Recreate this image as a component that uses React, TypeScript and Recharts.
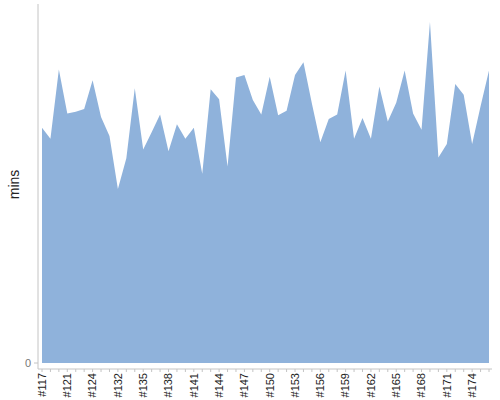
import React from 'react'
import { AreaChart, Area, XAxis, YAxis } from 'recharts'

// build numbers along the x axis
const builds = [
  117, 118, 119, 121, 122, 123, 124, 128, 130,
  132, 133, 134, 135, 136, 137, 138, 139, 140, 141, 142, 143, 144, 145, 146, 147, 148, 149,
  150, 151, 152, 153, 154, 155, 156, 157, 158, 159, 160, 161, 162, 163, 164, 165, 166, 167,
  168, 169, 170, 171, 172, 173, 174, 175, 176,
]

// build duration in minutes
const durations = [
  26.2, 25.0, 32.7, 27.8, 28.0, 28.3, 31.5, 27.4, 25.3,
  19.4, 22.8, 30.6, 23.8, 25.7, 27.7, 23.6, 26.6, 25.0, 26.2, 21.1, 30.5, 29.4, 21.9, 31.8, 32.1, 29.3, 27.7,
  31.9, 27.6, 28.1, 32.1, 33.5, 28.9, 24.6, 27.2, 27.7, 32.6, 25.0, 27.3, 25.0, 30.8, 26.9, 29.0, 32.6, 27.8,
  26.0, 38.0, 22.9, 24.4, 31.1, 29.9, 24.4, 28.6, 32.6,
]

const yTicks = [0]

const data = builds.map((b, i) => ({ build: '#' + b, mins: durations[i] }))

const FONT = '"Liberation Sans", Arial, sans-serif'

const BuildTick = (props: any) => {
  const { x, y, payload, index } = props
  if (index % 3 !== 0) return null
  return (
    <text
      transform={`translate(${x},${y}) rotate(-90)`}
      textAnchor="end"
      dy="0.35em"
      fontSize={11}
      fontFamily={FONT}
      fill="#222"
    >
      {payload.value}
    </text>
  )
}

export default function App() {
  return (
    <div style={{ position: 'absolute', left: 0, top: 0, width: 500, height: 400 }}>
      <AreaChart width={500} height={400} data={data} margin={{ top: 4, right: 8, bottom: 0, left: 0 }}>
        <XAxis
          dataKey="build"
          interval={0}
          height={31}
          padding={{ left: 4, right: 3 }}
          tickSize={3}
          tickMargin={1}
          stroke="#c4c4c4"
          tick={<BuildTick />}
        />
        <YAxis
          width={38}
          domain={[0, 40]}
          ticks={yTicks}
          padding={{ top: 0, bottom: 6 }}
          tickSize={4}
          tickMargin={3}
          stroke="#c4c4c4"
          tick={{ fontSize: 11, fill: '#777', fontFamily: FONT }}
          label={({ viewBox }: any) => (
            <text
              transform={`translate(19,${viewBox.y + viewBox.height / 2 - 2}) rotate(-90)`}
              textAnchor="middle"
              fontSize={14}
              fontFamily={FONT}
              fill="#222"
            >
              mins
            </text>
          )}
        />
        <Area
          type="linear"
          dataKey="mins"
          stroke="none"
          fill="#8fb2db"
          fillOpacity={1}
          isAnimationActive={false}
        />
      </AreaChart>
    </div>
  )
}
